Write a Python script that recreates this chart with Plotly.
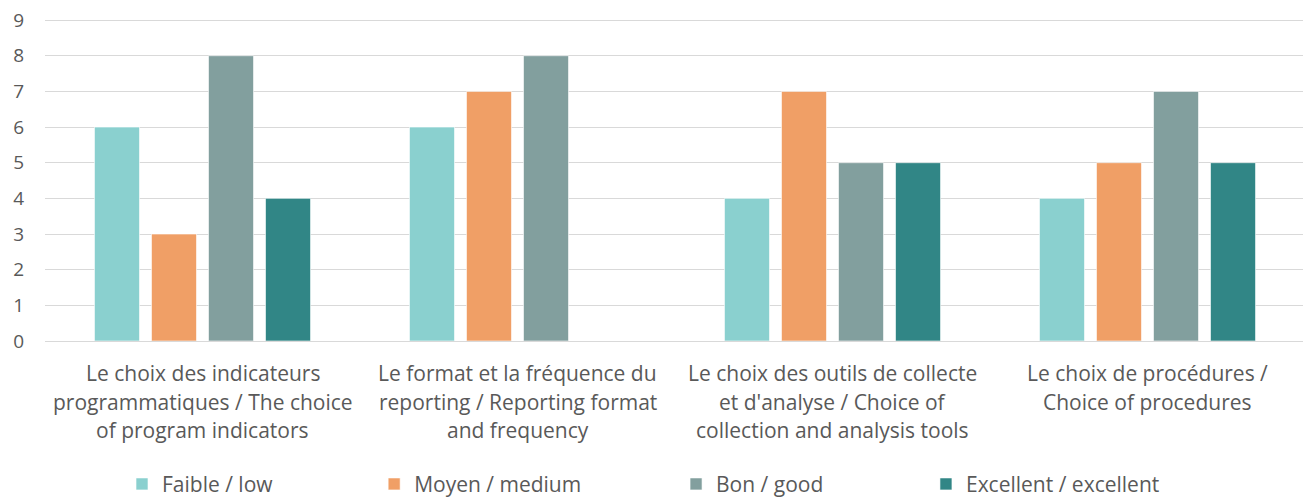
import plotly.graph_objects as go

categories = [
    "Le choix des indicateurs<br>programmatiques / The choice<br>of program indicators",
    "Le format et la fréquence du<br>reporting / Reporting format<br>and frequency",
    "Le choix des outils de collecte<br>et d'analyse / Choice of<br>collection and analysis tools",
    "Le choix de procédures /<br>Choice of procedures",
]
series_names = ["Faible / low", "Moyen / medium", "Bon / good", "Excellent / excellent"]
faible = [6, 6, 4, 4]
moyen = [3, 7, 7, 5]
bon = [8, 8, 5, 7]
excellent = [4, None, 5, 5]
y_ticks = list(range(0, 10))

colors = ["#8ad0cf", "#f09f66", "#829f9e", "#318686"]
legend_x = [0.0875, 0.281, 0.5127, 0.7045]

FONT = "Open Sans"
GRAY = "#595959"

fig = go.Figure()
values = [faible, moyen, bon, excellent]
for i, (name, vals) in enumerate(zip(series_names, values)):
    lg = "legend" if i == 0 else f"legend{i+1}"
    fig.add_trace(go.Bar(
        x=list(range(len(categories))), y=vals, name=name,
        marker=dict(color=colors[i], line=dict(color="rgba(255,255,255,0.6)", width=1)),
        legend=lg, showlegend=True,
    ))

layout_legends = {}
for i in range(4):
    key = "legend" if i == 0 else f"legend{i+1}"
    layout_legends[key] = dict(
        x=legend_x[i], xref="container", xanchor="left",
        y=0.026, yref="container", yanchor="middle",
        orientation="h", font=dict(family=FONT, size=21, color=GRAY),
        bgcolor="rgba(0,0,0,0)", itemwidth=30,
    )

annotations = []
for ci, cat in enumerate(categories):
    for li, line in enumerate(cat.split("<br>")):
        annotations.append(dict(
            x=ci, xref="x", y=0, yref="paper", yanchor="middle",
            yshift=-32 - 28.5 * li, text=line, showarrow=False,
            font=dict(family=FONT, size=21, color=GRAY),
        ))

# page body has an 8px margin; figure is sized/offset to compensate
fig.update_layout(
    width=1303, height=489,
    margin=dict(l=37, r=6, t=11, b=156),
    plot_bgcolor="white", paper_bgcolor="white",
    barmode="group", bargap=0.276, bargroupgap=0.21,
    font=dict(family=FONT, color=GRAY),
    annotations=annotations, showlegend=True,
    **layout_legends,
)
fig.update_xaxes(range=[-0.5, 3.5], showticklabels=False, showgrid=False,
                 zeroline=False, showline=False, ticks="", automargin=False)
fig.update_yaxes(range=[0, 9.03], tickvals=y_ticks, showgrid=True, gridcolor="#d9d9d9",
                 gridwidth=1, zeroline=True, zerolinecolor="#d9d9d9", zerolinewidth=1,
                 showline=False, ticks="", ticklabelstandoff=20, automargin=False,
                 ticklabeloverflow="allow",
                 tickfont=dict(family=FONT, size=19, color=GRAY))

fig.write_html("out.html")
